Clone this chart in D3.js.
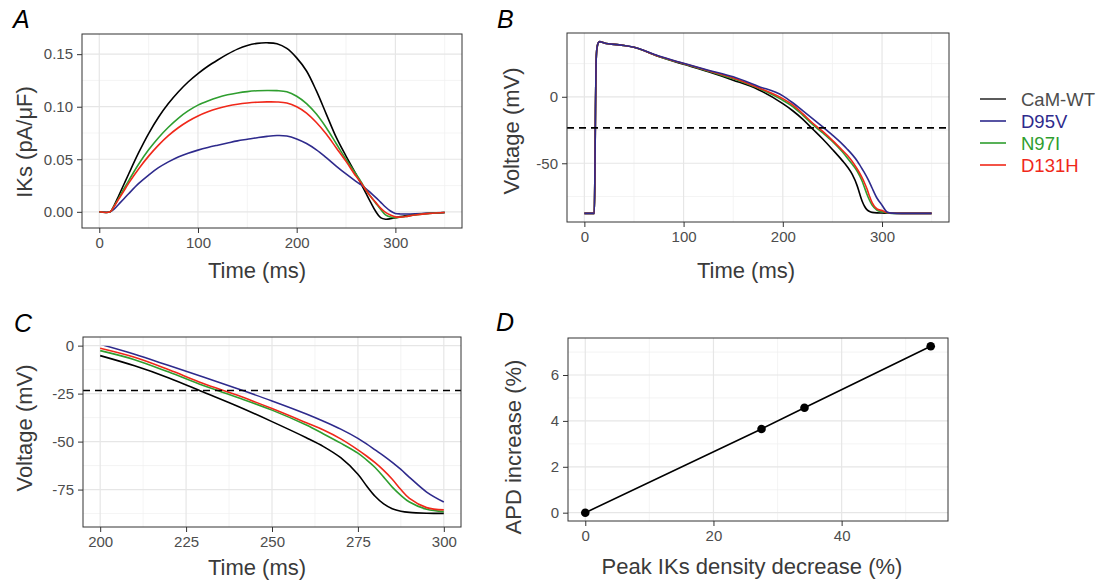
<!DOCTYPE html>
<html>
<head>
<meta charset="utf-8">
<script src="https://cdn.jsdelivr.net/npm/d3@7"></script>
<style>
  body { margin: 0; background: #fff; }
  svg { font-family: "Liberation Sans", Arial, sans-serif; }
</style>
</head>
<body>
<svg id="fig" width="1100" height="583"></svg>
<script>
// ---- data ----
const variants = ["CaM-WT", "D95V", "N97I", "D131H"];
const colours = ["#000000", "#2e2a8c", "#2f9e2f", "#f0281a"];
const legendText = ["#4d4d4d", "#2e2a8c", "#2f9e2f", "#f0281a"];

// panel A: IKs current traces
const ikTime = [0, 11, 15, 20, 25, 30, 40, 50, 60, 70, 80, 90, 100, 110, 120, 130, 140, 150, 160, 170,
  180, 190, 200, 210, 220, 230, 240, 250, 260, 265, 270, 275, 280, 285, 290, 295, 300, 305, 310, 320, 335, 350];
const ikWT = [0, 0, 0.006, 0.016, 0.0262, 0.0365, 0.0565, 0.0745, 0.090, 0.103, 0.114, 0.1235, 0.1315, 0.1385,
  0.1445, 0.150, 0.1548, 0.1583, 0.1603, 0.1608, 0.160, 0.1555, 0.1465, 0.134, 0.115, 0.093, 0.071, 0.053,
  0.036, 0.027, 0.018, 0.009, 0.0005, -0.0055, -0.007, -0.0066, -0.0056, -0.0046, -0.0038, -0.0025, -0.0013, -0.0006];
const ikD95V = [0, 0, 0.0025, 0.0075, 0.0125, 0.0175, 0.027, 0.035, 0.042, 0.0475, 0.0522, 0.0558, 0.0587, 0.0612,
  0.0634, 0.0655, 0.0675, 0.069, 0.0705, 0.0718, 0.0726, 0.0722, 0.0694, 0.065, 0.059, 0.0515, 0.0435, 0.036,
  0.029, 0.0258, 0.0222, 0.018, 0.0138, 0.0092, 0.0046, 0.0008, -0.0015, -0.002, -0.002, -0.0018, -0.0012, -0.0006];
const ikN97I = [0, 0, 0.0055, 0.0135, 0.022, 0.030, 0.0455, 0.059, 0.0705, 0.0805, 0.089, 0.096, 0.1015, 0.1055,
  0.1088, 0.1113, 0.1131, 0.1144, 0.1152, 0.1155, 0.1153, 0.1142, 0.110, 0.103, 0.093, 0.080, 0.065, 0.050,
  0.036, 0.029, 0.021, 0.0145, 0.0085, 0.0025, -0.003, -0.005, -0.0057, -0.005, -0.0045, -0.003, -0.0015, -0.0006];
const ikD131H = [0, 0, 0.005, 0.0125, 0.020, 0.0275, 0.041, 0.053, 0.0635, 0.0725, 0.080, 0.0862, 0.0912, 0.0952,
  0.0983, 0.1006, 0.1023, 0.1035, 0.1043, 0.1046, 0.1045, 0.1035, 0.100, 0.094, 0.085, 0.074, 0.061, 0.048,
  0.034, 0.028, 0.021, 0.0145, 0.009, 0.0035, -0.0005, -0.003, -0.0048, -0.005, -0.0045, -0.003, -0.0015, -0.0006];

// panels B and C: action potentials (C is a zoom of B)
const apTime = [0, 10, 10.6, 11.2, 11.8, 12.6, 14, 15.5, 18, 22, 30, 40, 50, 75, 100, 125, 150, 175, 200,
  210, 220, 230, 240, 250, 260, 265, 270, 275, 277.5, 280, 282.5, 285, 287.5, 290, 295, 300, 305, 310, 320, 350];
const apUpstroke = [-87.7, -87.7, -60, -10, 25, 36, 40.5, 41.5, 41, 40, 39.4, 38.6, 37.2];
const apWT = apUpstroke.concat([30.3, 24.4, 18.8, 12.5, 5.5, -5.2, -10.5, -16.8, -24.2, -31.6, -39.6, -48.0,
  -52.6, -58.4, -67.0, -73.0, -78.5, -82.5, -85.0, -86.3, -86.9, -87.3, -87.4, -87.5, -87.6, -87.7, -87.7]);
const apD95V = apUpstroke.concat([30.6, 25.2, 20.0, 15.0, 8.0, 0.7, -4.5, -10.4, -16.4, -22.5, -28.8, -35.6,
  -39.4, -43.5, -48.3, -51.2, -54.3, -57.4, -60.8, -64.5, -68.6, -76.3, -81.5, -86.6, -87.5, -87.7, -87.7]);
const apN97I = apUpstroke.concat([30.3, 24.8, 19.3, 13.6, 6.5, -2.6, -7.3, -13.8, -20.8, -27.0, -33.6, -41.4,
  -46.0, -50.8, -56.0, -59.5, -63.5, -68.5, -73.7, -78.0, -81.5, -85.3, -86.5, -87.4, -87.7, -87.7, -87.7]);
const apD131H = apUpstroke.concat([30.4, 25.0, 19.6, 14.2, 7.0, -1.4, -6.1, -12.6, -19.7, -25.9, -32.8, -40.2,
  -44.0, -48.6, -54.3, -57.5, -61.0, -65.0, -69.6, -75.0, -79.6, -84.4, -85.6, -87.0, -87.6, -87.7, -87.7]);
const apd50Level = -23.4;

// panel D
const ikDecrease = [0, 27.5, 34.2, 53.9];
const apdIncrease = [0, 3.65, 4.57, 7.25];

// ticks
const ticksA = { x: [0, 100, 200, 300], xm: [50, 150, 250, 350], y: [0, 0.05, 0.1, 0.15], ym: [0.025, 0.075, 0.125] };
const ticksB = { x: [0, 100, 200, 300], xm: [50, 150, 250, 350], y: [-50, 0], ym: [-75, -25, 25] };
const ticksC = { x: [200, 225, 250, 275, 300], xm: [212.5, 237.5, 262.5, 287.5], y: [-75, -50, -25, 0], ym: [-87.5, -62.5, -37.5, -12.5] };
const ticksD = { x: [0, 20, 40], xm: [10, 30, 50], y: [0, 2, 4, 6], ym: [1, 3, 5, 7] };

const ikSeries = [ikWT, ikD95V, ikN97I, ikD131H];
const apSeries = [apWT, apD95V, apN97I, apD131H];

// ---- drawing ----
const svg = d3.select("#fig");

// ggplot style 5% expansion
function padded(ext) {
  const r = ext[1] - ext[0];
  return [ext[0] - r * 0.05, ext[1] + r * 0.05];
}

function panel(box, xDomain, yDomain, ticks, yFormat) {
  const x = d3.scaleLinear().domain(xDomain).range([box.left, box.right]);
  const y = d3.scaleLinear().domain(yDomain).range([box.bottom, box.top]);
  const g = svg.append("g");

  g.append("rect")
    .attr("x", box.left).attr("y", box.top)
    .attr("width", box.right - box.left).attr("height", box.bottom - box.top)
    .attr("fill", "#fff");

  // minor grid then major grid
  const grid = g.append("g");
  grid.selectAll(".xm").data(ticks.xm).join("line")
    .attr("x1", d => x(d)).attr("x2", d => x(d)).attr("y1", box.top).attr("y2", box.bottom)
    .attr("stroke", "#efefef").attr("stroke-width", 0.7);
  grid.selectAll(".ym").data(ticks.ym).join("line")
    .attr("y1", d => y(d)).attr("y2", d => y(d)).attr("x1", box.left).attr("x2", box.right)
    .attr("stroke", "#efefef").attr("stroke-width", 0.7);
  grid.selectAll(".xM").data(ticks.x).join("line")
    .attr("x1", d => x(d)).attr("x2", d => x(d)).attr("y1", box.top).attr("y2", box.bottom)
    .attr("stroke", "#e6e6e6").attr("stroke-width", 1.2);
  grid.selectAll(".yM").data(ticks.y).join("line")
    .attr("y1", d => y(d)).attr("y2", d => y(d)).attr("x1", box.left).attr("x2", box.right)
    .attr("stroke", "#e6e6e6").attr("stroke-width", 1.2);

  const xa = g.append("g").attr("transform", `translate(0,${box.bottom})`)
    .call(d3.axisBottom(x).tickValues(ticks.x).tickSize(5).tickPadding(4).tickFormat(d => String(d)));
  const ya = g.append("g").attr("transform", `translate(${box.left},0)`)
    .call(d3.axisLeft(y).tickValues(ticks.y).tickSize(5).tickPadding(4).tickFormat(yFormat || (d => String(d))));
  [xa, ya].forEach(a => {
    a.select(".domain").remove();
    a.selectAll(".tick line").attr("stroke", "#333").attr("stroke-width", 1);
    a.selectAll(".tick text").attr("fill", "#4d4d4d").style("font-size", "15px")
      .style("font-family", "'Liberation Sans', Arial, sans-serif");
  });

  const marks = g.append("g");
  // border drawn last
  const border = () => g.append("rect")
    .attr("x", box.left).attr("y", box.top)
    .attr("width", box.right - box.left).attr("height", box.bottom - box.top)
    .attr("fill", "none").attr("stroke", "#333").attr("stroke-width", 1);
  return { g, marks, x, y, border };
}

function titles(xt, yt, tag) {
  svg.append("text").attr("x", xt.x).attr("y", xt.y).attr("text-anchor", "middle")
    .style("font-size", "22px").attr("fill", "#3a3a3a").text(xt.text);
  svg.append("text").attr("transform", `translate(${yt.x},${yt.y}) rotate(-90)`)
    .attr("text-anchor", "middle").attr("dominant-baseline", "central")
    .style("font-size", "22px").attr("fill", "#3a3a3a").text(yt.text);
  svg.append("text").attr("x", tag.x).attr("y", tag.y)
    .style("font-size", "25px").style("font-style", "italic").attr("fill", "#000").text(tag.text);
}

const smooth = d3.curveCatmullRom.alpha(0.5);
const line = (x, y, curve) => d3.line().x(d => x(d[0])).y(d => y(d[1])).curve(curve || d3.curveMonotoneX);

// ---- A ----
{
  const ext = d3.extent(ikSeries.flat());
  const p = panel({ left: 82, top: 34, right: 462, bottom: 228 }, padded([0, 350]), padded(ext), ticksA, d3.format(".2f"));
  ikSeries.forEach((s, i) => {
    p.marks.append("path").datum(ikTime.map((t, j) => [t, s[j]]))
      .attr("d", line(p.x, p.y, smooth)).attr("fill", "none").attr("stroke", colours[i]).attr("stroke-width", 1.6);
  });
  p.border();
  titles({ x: 257, y: 278, text: "Time (ms)" }, { x: 24, y: 142, text: "IKs (pA/μF)" }, { x: 13, y: 28, text: "A" });
}

// ---- B ----
{
  const ext = d3.extent(apSeries.flat());
  const p = panel({ left: 567, top: 33, right: 949, bottom: 222 }, padded([0, 350]), padded(ext), ticksB);
  // draw WT underneath, D95V on top like the reference
  [0, 2, 3, 1].forEach(i => {
    p.marks.append("path").datum(apTime.map((t, j) => [t, apSeries[i][j]]))
      .attr("d", line(p.x, p.y)).attr("fill", "none").attr("stroke", colours[i]).attr("stroke-width", 1.6);
  });
  p.marks.append("line")
    .attr("x1", p.x.range()[0]).attr("x2", p.x.range()[1])
    .attr("y1", p.y(apd50Level)).attr("y2", p.y(apd50Level))
    .attr("stroke", "#000").attr("stroke-width", 1.6).attr("stroke-dasharray", "7,5");
  p.border();
  titles({ x: 746, y: 278, text: "Time (ms)" }, { x: 511, y: 131, text: "Voltage (mV)" }, { x: 497, y: 28, text: "B" });
}

// ---- C ----
{
  const p = panel({ left: 83, top: 337, right: 461, bottom: 527 }, padded([200, 300]), padded([-90, 0]), ticksC);
  // y limited to (-90, 0): values above 0 are dropped
  svg.append("clipPath").attr("id", "clipC").append("rect")
    .attr("x", p.x.range()[0]).attr("width", p.x.range()[1] - p.x.range()[0])
    .attr("y", p.y(0)).attr("height", p.y.range()[0] - p.y(0));
  p.marks.attr("clip-path", "url(#clipC)");
  [0, 2, 3, 1].forEach(i => {
    const pts = apTime.map((t, j) => [t, apSeries[i][j]]).filter(d => d[0] >= 200 && d[0] <= 300);
    p.marks.append("path").datum(pts)
      .attr("d", line(p.x, p.y, smooth)).attr("fill", "none").attr("stroke", colours[i]).attr("stroke-width", 1.6);
  });
  p.g.append("line")
    .attr("x1", p.x.range()[0]).attr("x2", p.x.range()[1])
    .attr("y1", p.y(apd50Level)).attr("y2", p.y(apd50Level))
    .attr("stroke", "#000").attr("stroke-width", 1.6).attr("stroke-dasharray", "7,5");
  p.border();
  titles({ x: 257, y: 575, text: "Time (ms)" }, { x: 24, y: 428, text: "Voltage (mV)" }, { x: 14, y: 332, text: "C" });
}

// ---- D ----
{
  const p = panel({ left: 568, top: 338, right: 948, bottom: 521 },
    padded(d3.extent(ikDecrease)), padded(d3.extent(apdIncrease)), ticksD);
  const pts = ikDecrease.map((v, i) => [v, apdIncrease[i]]);
  p.marks.append("path").datum(pts)
    .attr("d", d3.line().x(d => p.x(d[0])).y(d => p.y(d[1])))
    .attr("fill", "none").attr("stroke", "#000").attr("stroke-width", 1.6);
  p.marks.selectAll("circle").data(pts).join("circle")
    .attr("cx", d => p.x(d[0])).attr("cy", d => p.y(d[1])).attr("r", 4.3).attr("fill", "#000");
  p.border();
  titles({ x: 752, y: 574, text: "Peak IKs density decrease (%)" }, { x: 513, y: 447, text: "APD increase (%)" }, { x: 496, y: 331, text: "D" });
}

// ---- legend ----
const leg = svg.append("g");
const rowY = d3.scalePoint().domain(variants).range([99, 165]);
leg.selectAll("line").data(variants).join("line")
  .attr("x1", 980).attr("x2", 1006)
  .attr("y1", d => rowY(d)).attr("y2", d => rowY(d))
  .attr("stroke", (d, i) => i === 0 ? "#333" : colours[i]).attr("stroke-width", 1.6);
leg.selectAll("text").data(variants).join("text")
  .attr("x", 1021).attr("y", d => rowY(d)).attr("dominant-baseline", "central")
  .style("font-size", "18.5px").attr("fill", (d, i) => legendText[i]).text(d => d);
</script>
</body>
</html>
